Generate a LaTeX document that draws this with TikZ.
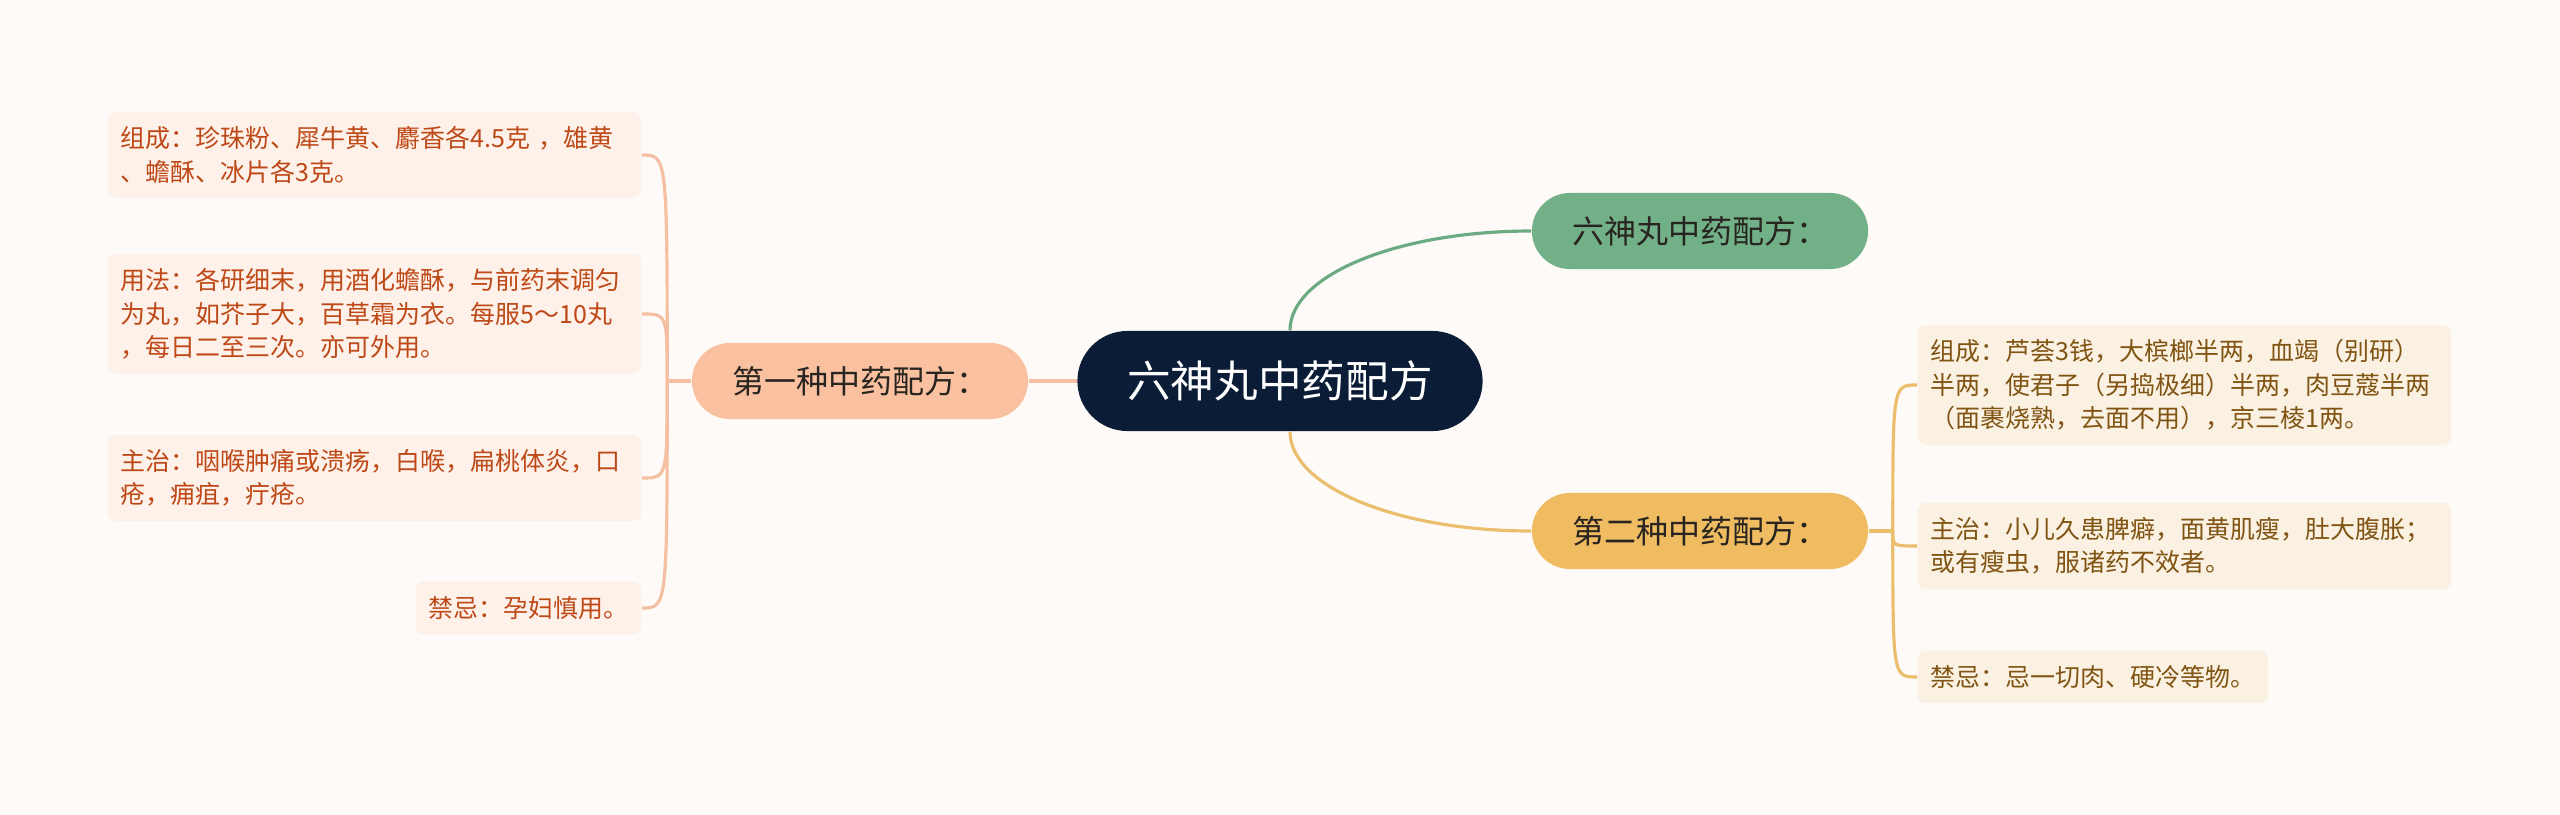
\documentclass[tikz,border=0pt]{standalone}
\usepackage{fontspec}
\setmainfont{Noto Sans CJK SC}
\usetikzlibrary{positioning,calc}
\definecolor{paper}{RGB}{253,250,248}
\definecolor{rootnavy}{RGB}{11,29,54}
\definecolor{mmgreen}{RGB}{114,176,136}
\definecolor{mmyellow}{RGB}{240,188,98}
\definecolor{mmpeach}{RGB}{250,193,160}
\definecolor{lnkgreen}{RGB}{108,170,130}
\definecolor{lnkyellow}{RGB}{234,190,108}
\definecolor{lnkpeach}{RGB}{245,192,162}
\definecolor{leafpeach}{RGB}{253,241,234}
\definecolor{leafyellow}{RGB}{251,241,226}
\definecolor{txtpeach}{RGB}{190,72,22}
\definecolor{txtyellow}{RGB}{128,84,18}
\definecolor{txtdark}{RGB}{40,36,32}
\pgfdeclarelayer{paperlayer}
\pgfdeclarelayer{links}
\pgfsetlayers{paperlayer,links,main}

\begin{document}
\begin{tikzpicture}[x=0.01cm, y=-0.01cm,
  every node/.style={font=\fontsize{7.1}{9.5}\selectfont},
  mainbx/.style={rounded corners=0.5cm, fill=rootnavy, text=white, minimum width=4.05cm, minimum height=1cm, font=\fontsize{12.4}{14}\selectfont},
  subbx/.style={rounded corners=0.38cm, minimum width=3.36cm, minimum height=0.76cm, text=txtdark, font=\fontsize{9.1}{11}\selectfont},
  leafbx/.style={rounded corners=0.08cm, align=left, inner xsep=0.13cm, inner ysep=0.145cm},
  wide/.style={text width=5.07cm},
  lnk/.style={line width=0.9pt}]
\begin{pgfonlayer}{paperlayer}
\fill[paper] (0,0) rectangle (2560,815);
\end{pgfonlayer}
\useasboundingbox (0,0) rectangle (2560,815);

\node[mainbx] (root) at (1280,381) {六神丸中药配方};
\node[subbx, fill=mmgreen] (recipe) at (1700,231) {六神丸中药配方：};
\node[subbx, fill=mmyellow] (second) at (1700,531) {第二种中药配方：};
\node[subbx, fill=mmpeach] (first) at (860,381) {第一种中药配方：};

% first recipe
\node[leafbx, wide, fill=leafpeach, text=txtpeach, anchor=east] (comp1) at (642,155) {组成：珍珠粉、犀牛黄、麝香各4.5克 ，雄黄\\、蟾酥、冰片各3克。};
\node[leafbx, wide, fill=leafpeach, text=txtpeach, anchor=east] (usage1) at (642,314) {用法：各研细末，用酒化蟾酥，与前药末调匀\\为丸，如芥子大，百草霜为衣。每服5～10丸\\，每日二至三次。亦可外用。};
\node[leafbx, wide, fill=leafpeach, text=txtpeach, anchor=east] (treat1) at (642,478) {主治：咽喉肿痛或溃疡，白喉，扁桃体炎，口\\疮，痈疽，疔疮。};
\node[leafbx, fill=leafpeach, text=txtpeach, anchor=east] (taboo1) at (642,608) {禁忌：孕妇慎用。};

% second recipe
\node[leafbx, wide, fill=leafyellow, text=txtyellow, anchor=west] (comp2) at (1917,385) {组成：芦荟3钱，大槟榔半两，血竭（别研）\\半两，使君子（另捣极细）半两，肉豆蔻半两\\（面裹烧熟，去面不用），京三棱1两。};
\node[leafbx, wide, fill=leafyellow, text=txtyellow, anchor=west] (treat2) at (1917,546) {主治：小儿久患脾癖，面黄肌瘦，肚大腹胀；\\或有瘦虫，服诸药不效者。};
\node[leafbx, fill=leafyellow, text=txtyellow, anchor=west] (taboo2) at (1917,677) {禁忌：忌一切肉、硬冷等物。};

\coordinate (lspine) at ($(first.west)+(-24,0)$);
\coordinate (rspine) at ($(second.east)+(24,0)$);

\begin{pgfonlayer}{links}
\draw[lnk, lnkgreen] ($(root.north)+(10,0)$) .. controls +(0,-55) and +(-134,0) .. (recipe.west);
\draw[lnk, lnkyellow] ($(root.south)+(10,0)$) .. controls +(0,55) and +(-134,0) .. (second.west);
\draw[lnk, lnkpeach] (root.west) -- (first.east);
\draw[lnk, lnkpeach] (first.west) -- (lspine);
\foreach \leaf in {comp1,usage1,treat1,taboo1}
  \draw[lnk, lnkpeach] (lspine) .. controls (lspine |- \leaf.east) .. (\leaf.east);
\draw[lnk, lnkyellow] (second.east) -- (rspine);
\foreach \leaf in {comp2,treat2,taboo2}
  \draw[lnk, lnkyellow] (rspine) .. controls (rspine |- \leaf.west) .. (\leaf.west);
\end{pgfonlayer}
\end{tikzpicture}
\end{document}
